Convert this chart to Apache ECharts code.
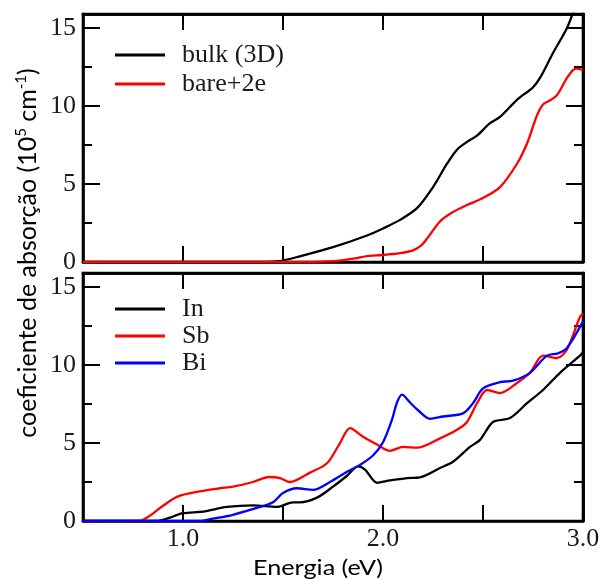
<!DOCTYPE html>
<html><head><meta charset="utf-8">
<script src="https://cdn.jsdelivr.net/npm/echarts@6/dist/echarts.min.js"></script>
<style>html,body{margin:0;padding:0;background:#fff}#c{width:600px;height:580px}</style>
</head><body><div id="c"></div>
<script>
// Energy (eV), absorption (10^5 cm^-1) pairs
const bulk3D = [[0.5,0],[1.4,0],[1.48,0.05],[1.58,0.35],[1.75,0.95],[1.92,1.7],[2.0,2.15],[2.085,2.7],[2.17,3.45],[2.25,4.8],[2.32,6.3],[2.37,7.2],[2.42,7.7],[2.47,8.1],[2.535,8.9],[2.585,9.3],[2.67,10.4],[2.75,11.2],[2.785,11.8],[2.85,13.4],[2.92,15.0],[2.96,16.3],[3.0,17.4]];
const bare2e = [[0.5,0],[1.6,0],[1.75,0.05],[1.87,0.25],[1.92,0.38],[2.0,0.45],[2.085,0.57],[2.15,0.75],[2.19,1.05],[2.22,1.5],[2.285,2.6],[2.35,3.2],[2.42,3.65],[2.5,4.1],[2.585,4.8],[2.67,6.3],[2.72,7.6],[2.77,9.4],[2.8,10.1],[2.84,10.4],[2.87,10.7],[2.92,11.8],[2.95,12.3],[2.97,12.4],[3.0,12.3]];
const inData = [[0.5,0],[0.87,0],[0.93,0.2],[1.0,0.5],[1.1,0.6],[1.22,0.9],[1.35,1.0],[1.47,0.9],[1.55,1.2],[1.585,1.2],[1.67,1.5],[1.75,2.2],[1.82,2.9],[1.875,3.5],[1.91,3.3],[1.97,2.45],[2.035,2.6],[2.12,2.75],[2.185,2.8],[2.285,3.4],[2.35,3.8],[2.435,4.75],[2.485,5.2],[2.55,6.35],[2.635,6.6],[2.72,7.55],[2.8,8.4],[2.885,9.5],[2.985,10.6],[3.0,10.8]];
const sbData = [[0.5,0],[0.78,0],[0.83,0.3],[0.885,0.83],[0.97,1.55],[1.085,1.9],[1.185,2.1],[1.25,2.2],[1.35,2.5],[1.43,2.82],[1.485,2.75],[1.535,2.5],[1.635,3.1],[1.72,3.7],[1.785,5.0],[1.835,5.95],[1.9,5.4],[1.97,4.9],[2.035,4.5],[2.1,4.75],[2.17,4.7],[2.285,5.3],[2.37,5.85],[2.42,6.35],[2.47,7.55],[2.52,8.4],[2.585,8.2],[2.67,8.85],[2.735,9.5],[2.8,10.6],[2.87,10.45],[2.92,11.0],[2.985,13.1],[3.0,13.3]];
const biData = [[0.5,0],[1.08,0],[1.15,0.15],[1.25,0.4],[1.385,0.9],[1.45,1.2],[1.5,1.8],[1.57,2.1],[1.65,2.0],[1.735,2.5],[1.82,3.15],[1.885,3.6],[1.95,4.2],[2.0,5.05],[2.045,6.5],[2.07,7.6],[2.095,8.1],[2.135,7.6],[2.175,7.1],[2.235,6.55],[2.3,6.7],[2.4,6.9],[2.45,7.55],[2.5,8.5],[2.585,8.9],[2.65,9.0],[2.735,9.5],[2.82,10.6],[2.875,10.75],[2.92,11.1],[3.0,12.8]];
const topNames = ['bulk (3D)','bare+2e'];
const botNames = ['In','Sb','Bi'];
const xMin = 0.5, xMax = 3.0, yMin = 0, yMax = 15.9;

const serif = 'Liberation Serif';
const lw = 2.6;
const GW = 500, GH = 248;
const grids = [], xAxes = [], yAxes = [];
// each panel: grid A (bottom x, left y, data), grid B (top x, right y),
// grid C (bottom/left axes shifted onto the far edges, ticks pointing inward)
function panel(top, withXLabels) {
  const base = grids.length;
  const specs = [
    {xPos:'bottom', yPos:'left',  xOff:0,   yOff:0,   xIn:true,  yIn:true,  near:true},
    {xPos:'top',    yPos:'right', xOff:0,   yOff:0,   xIn:true,  yIn:true,  near:false},
    {xPos:'bottom', yPos:'left',  xOff:-GH, yOff:-GW, xIn:false, yIn:false, near:false}
  ];
  specs.forEach((s, k) => {
    const gi = base + k;
    grids.push({left:83, top:top, width:GW, height:GH, outerBoundsMode:'none', containLabel:false,
      show:k === 1, borderColor:'#000', borderWidth:lw, backgroundColor:'transparent'});
    const xVisible = s.near && withXLabels;
    xAxes.push({type:'value', gridIndex:gi, position:s.xPos, offset:s.xOff, min:xMin, max:xMax, interval:0.5,
      axisLine:{show:true, onZero:false, lineStyle:{color:'#000', width:lw}},
      axisTick:{show:true, inside:s.xIn, length:16, lineStyle:{color:'#000', width:2}},
      axisLabel:{show:true, margin:5, fontFamily:serif, fontSize:26,
        color: xVisible ? '#1a1a1a' : 'rgba(0,0,0,0)',
        formatter: v => (Math.abs(v - Math.round(v)) < 1e-6 ? v.toFixed(1) : '')},
      splitLine:{show:false}});
    yAxes.push({type:'value', gridIndex:gi, position:s.yPos, offset:s.yOff, min:yMin, max:yMax, interval:5,
      axisLine:{show:true, onZero:false, lineStyle:{color:'#000', width:lw}},
      axisTick:{show:true, inside:s.yIn, length:17, lineStyle:{color:'#000', width:2}},
      minorTick:{show:true, splitNumber:2, length:9, lineStyle:{color:'#000', width:2}},
      minorSplitLine:{show:false},
      axisLabel:{show:true, margin:7, fontFamily:serif, fontSize:26,
        color: s.near ? '#1a1a1a' : 'rgba(0,0,0,0)',
        formatter: v => (v % 5 === 0 ? String(v) : '')},
      splitLine:{show:false}});
  });
  return base;
}
const p1 = panel(14, false);
const p2 = panel(273, true);

function ser(name, data, color, idx) {
  return {type:'line', name, data, xAxisIndex:idx, yAxisIndex:idx, showSymbol:false, symbol:'none',
    smooth:0.3, clip:true, lineStyle:{color, width:2.3}, itemStyle:{color}, z:3};
}
const series = [
  ser(topNames[0], bulk3D, '#000000', p1),
  ser(topNames[1], bare2e, '#ff0000', p1),
  ser(botNames[0], inData, '#000000', p2),
  ser(botNames[1], sbData, '#ff0000', p2),
  ser(botNames[2], biData, '#0000ff', p2)
];
const legendBase = {orient:'vertical', left:110, icon:'rect', itemWidth:50, itemHeight:3,
  textStyle:{fontFamily:serif, fontSize:26, color:'#1a1a1a', padding:[0,0,0,12]}};
const chart = echarts.init(document.getElementById('c'));
chart.setOption({
  animation:false,
  backgroundColor:'#fff',
  grid:grids,
  xAxis:xAxes,
  yAxis:yAxes,
  series,
  legend:[
    Object.assign({}, legendBase, {top:37, itemGap:3, data:topNames}),
    Object.assign({}, legendBase, {top:291, itemGap:1, data:botNames})
  ],
  graphic:[
    {type:'text', x:28, y:253, rotation:Math.PI/2,
      style:{text:'{t|coeficiente de absorção (10}{s|5}{t| cm}{s|-1}{t|)}', align:'center', verticalAlign:'middle',
        rich:{t:{fontFamily:'Lato', fontSize:25, color:'#000', lineHeight:28},
              s:{fontFamily:'Lato', fontSize:15, color:'#000', verticalAlign:'top', lineHeight:16}}}},
    {type:'text', x:318, y:568, scaleX:1.2,
      style:{text:'Energia (eV)', fontFamily:'Lato', fontSize:21, fill:'#000', align:'center', verticalAlign:'middle'}}
  ]
});
</script></body></html>
